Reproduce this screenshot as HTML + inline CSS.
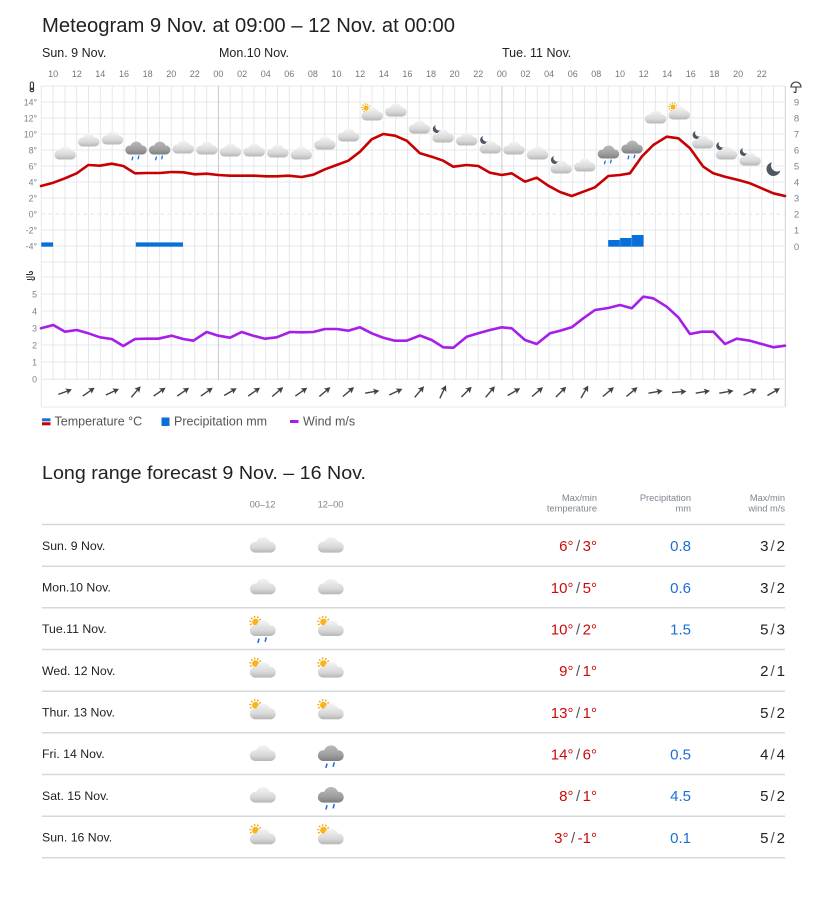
<!DOCTYPE html>
<html><head><meta charset="utf-8">
<style>
html,body{margin:0;padding:0;background:#fff;}
svg{display:block;}
</style></head>
<body>
<svg width="827" height="900" xmlns="http://www.w3.org/2000/svg" xmlns:xlink="http://www.w3.org/1999/xlink" font-family="Liberation Sans, Arial, sans-serif">
<defs>
<linearGradient id="gl" gradientUnits="userSpaceOnUse" x1="0" y1="0" x2="0" y2="13"><stop offset="0" stop-color="#f4f4f4"/><stop offset="0.65" stop-color="#d8d8d8"/><stop offset="1" stop-color="#b6b6b6"/></linearGradient>
<linearGradient id="gd" gradientUnits="userSpaceOnUse" x1="0" y1="0" x2="0" y2="13"><stop offset="0" stop-color="#bababa"/><stop offset="0.65" stop-color="#9c9c9c"/><stop offset="1" stop-color="#7e7e7e"/></linearGradient>
<g id="cl" fill="url(#gl)"><circle cx="5" cy="8.5" r="4.5"/><circle cx="11.5" cy="6" r="6"/><circle cx="17.5" cy="8.5" r="4.5"/><rect x="5" y="8" width="12.5" height="5"/></g>
<g id="cd" fill="url(#gd)"><circle cx="5" cy="8.5" r="4.5"/><circle cx="11.5" cy="6" r="6"/><circle cx="17.5" cy="8.5" r="4.5"/><rect x="5" y="8" width="12.5" height="5"/></g>
<g id="dr" stroke="#1d6fd6" stroke-width="1.3" stroke-linecap="round"><line x1="7.3" y1="18.3" x2="8" y2="15.6"/><line x1="13.3" y1="17.3" x2="14" y2="14.6"/></g>
<path id="mn" d="M-1.175 -4.859A5 5 0 1 0 4.859 1.175A4.4 4.4 0 0 1 -1.175 -4.859Z" fill="#4d5863"/>
<g id="sn"><circle r="2.6" fill="#f8b31d"/><circle r="4" fill="none" stroke="#f5a81a" stroke-width="1.5" stroke-dasharray="1.1 1.4"/></g>
<g id="ar"><line x1="-7" y1="0" x2="3" y2="0" stroke="#3b444d" stroke-width="1.4"/><polygon points="7.5,0 1.5,-3.2 2.8,0 1.5,3.2" fill="#3b444d"/></g>
</defs>

<!-- Title -->
<text x="42" y="32" font-size="20" fill="#222" textLength="413" lengthAdjust="spacingAndGlyphs">Meteogram 9 Nov. at 09:00 – 12 Nov. at 00:00</text>

<!-- Day labels -->
<g font-size="12.5" fill="#222">
<text x="42" y="57">Sun. 9 Nov.</text>
<text x="219" y="57">Mon.10 Nov.</text>
<text x="502" y="57">Tue. 11 Nov.</text>
</g>

<!-- Hour labels -->
<g font-size="9" fill="#6e7780" text-anchor="middle">
<text x="53.1" y="77">10</text><text x="76.7" y="77">12</text><text x="100.3" y="77">14</text><text x="124" y="77">16</text><text x="147.6" y="77">18</text><text x="171.2" y="77">20</text><text x="194.8" y="77">22</text>
<text x="218.4" y="77">00</text><text x="242.1" y="77">02</text><text x="265.7" y="77">04</text><text x="289.3" y="77">06</text><text x="312.9" y="77">08</text><text x="336.5" y="77">10</text><text x="360.1" y="77">12</text><text x="383.8" y="77">14</text><text x="407.4" y="77">16</text><text x="431" y="77">18</text><text x="454.6" y="77">20</text><text x="478.2" y="77">22</text>
<text x="501.9" y="77">00</text><text x="525.5" y="77">02</text><text x="549.1" y="77">04</text><text x="572.7" y="77">06</text><text x="596.3" y="77">08</text><text x="620" y="77">10</text><text x="643.6" y="77">12</text><text x="667.2" y="77">14</text><text x="690.8" y="77">16</text><text x="714.4" y="77">18</text><text x="738.1" y="77">20</text><text x="761.7" y="77">22</text>
</g>

<!-- Grid -->
<path fill="none" stroke="#e4e8ec" stroke-width="1" d="M53.1 86V380M64.9 86V380M76.7 86V380M88.5 86V380M100.3 86V380M112.2 86V380M124 86V380M135.8 86V380M147.6 86V380M159.4 86V380M171.2 86V380M183 86V380M194.8 86V380M206.6 86V380M230.2 86V380M242.1 86V380M253.9 86V380M265.7 86V380M277.5 86V380M289.3 86V380M301.1 86V380M312.9 86V380M324.7 86V380M336.5 86V380M348.3 86V380M360.1 86V380M372 86V380M383.8 86V380M395.6 86V380M407.4 86V380M419.2 86V380M431 86V380M442.8 86V380M454.6 86V380M466.4 86V380M478.2 86V380M490.1 86V380M513.7 86V380M525.5 86V380M537.3 86V380M549.1 86V380M560.9 86V380M572.7 86V380M584.5 86V380M596.3 86V380M608.2 86V380M620 86V380M631.8 86V380M643.6 86V380M655.4 86V380M667.2 86V380M679 86V380M690.8 86V380M702.6 86V380M714.4 86V380M726.2 86V380M738.1 86V380M749.9 86V380M761.7 86V380M773.5 86V380"/>
<path fill="none" stroke="#e4e8ec" stroke-width="1" d="M41.3 86H785.3M41.3 102H785.3M41.3 118H785.3M41.3 134H785.3M41.3 150H785.3M41.3 166H785.3M41.3 182H785.3M41.3 198H785.3M41.3 230H785.3M41.3 246H785.3M41.3 262H785.3M41.3 277H785.3M41.3 294H785.3M41.3 311H785.3M41.3 328H785.3M41.3 345H785.3M41.3 362H785.3M41.3 379.3H785.3M41.3 407H785.3M41.3 86V407"/>
<line x1="41.3" y1="214" x2="785.3" y2="214" stroke="#dfe4e9" stroke-dasharray="4 3"/>
<line x1="218.4" y1="86" x2="218.4" y2="380" stroke="#c5cacf"/>
<line x1="501.9" y1="86" x2="501.9" y2="380" stroke="#c5cacf"/>
<line x1="785.3" y1="86" x2="785.3" y2="407" stroke="#cdd2d7"/>

<!-- Axis icons -->
<g fill="none" stroke="#333" stroke-width="1.1">
<rect x="30.3" y="82" width="3.2" height="7.5" rx="1.6"/>
<circle cx="31.9" cy="90" r="1.8"/>
<path d="M26 274.5h5a1.5 1.5 0 1 0 -1.5 -1.5M26 277h7a1.5 1.5 0 1 1 -1.5 1.5M27 279.5h4"/>
<path d="M791 87a5 5 0 0 1 10 0zM796 87v4.5a1 1 0 0 1 -2 0"/>
</g>

<!-- Left axis labels -->
<g font-size="8.8" fill="#7a838c" text-anchor="end">
<text x="37" y="105.3">14°</text><text x="37" y="121.3">12°</text><text x="37" y="137.3">10°</text><text x="37" y="153.3">8°</text><text x="37" y="169.3">6°</text><text x="37" y="185.3">4°</text><text x="37" y="201.3">2°</text><text x="37" y="217.3">0°</text><text x="37" y="233.3">-2°</text><text x="37" y="249.3">-4°</text>
<text x="37" y="297.6">5</text><text x="37" y="314.6">4</text><text x="37" y="331.6">3</text><text x="37" y="348.6">2</text><text x="37" y="365.6">1</text><text x="37" y="382.6">0</text>
</g>
<!-- Right axis labels -->
<g font-size="9.5" fill="#7a838c" text-anchor="middle">
<text x="796.5" y="105.5">9</text><text x="796.5" y="121.5">8</text><text x="796.5" y="137.5">7</text><text x="796.5" y="153.5">6</text><text x="796.5" y="169.5">5</text><text x="796.5" y="185.5">4</text><text x="796.5" y="201.5">3</text><text x="796.5" y="217.5">2</text><text x="796.5" y="233.5">1</text><text x="796.5" y="250">0</text>
</g>

<!-- Precipitation -->
<g fill="#0b6fd8">
<rect x="41.3" y="242.4" width="11.8" height="4.3"/>
<rect x="135.8" y="242.4" width="47.2" height="4.3"/>
<rect x="608.2" y="240" width="11.8" height="6.7"/>
<rect x="620" y="238" width="11.8" height="8.7"/>
<rect x="631.8" y="235" width="11.8" height="11.7"/>
</g>
<g stroke="#5d9de6" stroke-width="0.6"><line x1="620" y1="238" x2="620" y2="246.7"/><line x1="631.8" y1="235" x2="631.8" y2="246.7"/></g>

<!-- Temperature line -->
<polyline fill="none" stroke="#c80000" stroke-width="2.6" stroke-linejoin="round" stroke-linecap="round" points="41,186 53.3,182.7 65,178.3 76.7,173.3 88.3,165 100,165.7 111.7,163.7 123.3,166 135,173.3 146.7,173 160,173 171.7,172 183.3,172.3 195,174.3 206.7,173.7 218.3,175 230,175.7 253.3,175.7 266.7,176.3 276.7,176.3 288.3,175.7 301.7,177 313.3,174.7 325,169.3 336.7,165 348.3,160.7 360,151.7 371.7,139.3 383.3,134 395,135.7 406.7,140.7 420,153.3 431.7,156.7 443.3,160.7 453.3,166.7 466.7,165 478.3,166 490,172.7 501.7,175 511.7,173.3 525,181.7 536.7,177.7 548.3,185.7 560,192 571.7,196 583.3,191.7 595,187.3 608.3,176 620,175 630,173.3 641.7,156.7 653.3,145 666.7,136.7 678.3,138.3 690,148.3 703.3,166.7 713.3,173.3 725,176.7 738.3,180 750,183.3 761.7,188.3 773.3,193.3 785,196"/>

<!-- Wind line -->
<polyline fill="none" stroke="#a61ee8" stroke-width="2.6" stroke-linejoin="round" stroke-linecap="round" points="41,328.3 53.3,325 65,331.7 76.7,330 88.3,333.3 100,337.3 111.7,339 123.3,346 135,339 146.7,338.7 158.3,338.7 171.7,335.7 183.3,339 193.3,340.7 206.7,332 218.3,335.7 230,337.7 241.7,332 253.3,335.7 265,338.7 276.7,337.3 290,332 301.7,332.3 313.3,332 325,329 336.7,329 348.3,330.7 360,327.3 371.7,333.3 383.3,337.7 395,340.7 406.7,340.7 420,335.5 431.7,340 443.3,347.3 453.3,347.7 466.7,336.7 478.3,333.3 490,330 501.7,327.3 511.7,328.3 525,340 536.7,344 550,333.3 560,330.7 571.7,327.3 583.3,318.3 595,310 608.3,308 620,305 631.7,308.3 643.3,296.7 653.3,298.3 666.7,306.7 678.3,317.3 690,334 701.7,331.7 713.3,331.7 725,344 736.7,338.7 750,340.7 761.7,344 773.3,347.3 785,345.7"/>

<!-- Weather icons in chart -->
<use xlink:href="#cl" x="53.9" y="146.5"/>
<use xlink:href="#cl" x="77.5" y="133.5"/>
<use xlink:href="#cl" x="101.2" y="131.5"/>
<use xlink:href="#cd" x="124.8" y="141.5"/><use xlink:href="#dr" x="124.8" y="141.5"/>
<use xlink:href="#cd" x="148.4" y="141.5"/><use xlink:href="#dr" x="148.4" y="141.5"/>
<use xlink:href="#cl" x="172" y="140.5"/>
<use xlink:href="#cl" x="195.6" y="141.5"/>
<use xlink:href="#cl" x="219.2" y="143.5"/>
<use xlink:href="#cl" x="242.9" y="143.5"/>
<use xlink:href="#cl" x="266.5" y="144.5"/>
<use xlink:href="#cl" x="290.1" y="146.5"/>
<use xlink:href="#cl" x="313.7" y="136.5"/>
<use xlink:href="#cl" x="337.3" y="128.5"/>
<use xlink:href="#sn" x="366" y="108"/><use xlink:href="#cl" x="361" y="107.5"/>
<use xlink:href="#cl" x="384.6" y="103.5"/>
<use xlink:href="#cl" x="408.2" y="120.5"/>
<use xlink:href="#mn" transform="translate(436.8,129) scale(0.8)"/><use xlink:href="#cl" x="431.8" y="129.5"/>
<use xlink:href="#cl" x="455.4" y="132.5"/>
<use xlink:href="#mn" transform="translate(484.1,140) scale(0.8)"/><use xlink:href="#cl" x="479.1" y="140.5"/>
<use xlink:href="#cl" x="502.7" y="141.5"/>
<use xlink:href="#cl" x="526.3" y="146.5"/>
<use xlink:href="#mn" transform="translate(554.9,160) scale(0.8)"/><use xlink:href="#cl" x="549.9" y="160.5"/>
<use xlink:href="#cl" x="573.5" y="158.5"/>
<use xlink:href="#cd" x="597.2" y="145.5"/><use xlink:href="#dr" x="597.2" y="145.5"/>
<use xlink:href="#cd" x="620.8" y="140.5"/><use xlink:href="#dr" x="620.8" y="140.5"/>
<use xlink:href="#cl" x="644.4" y="110.5"/>
<use xlink:href="#sn" x="673" y="107"/><use xlink:href="#cl" x="668" y="106.5"/>
<use xlink:href="#mn" transform="translate(696.6,135) scale(0.8)"/><use xlink:href="#cl" x="691.6" y="135.5"/>
<use xlink:href="#mn" transform="translate(720.2,146) scale(0.8)"/><use xlink:href="#cl" x="715.2" y="146.5"/>
<use xlink:href="#mn" transform="translate(743.9,152) scale(0.8)"/><use xlink:href="#cl" x="738.9" y="152.5"/>
<use xlink:href="#mn" transform="translate(773.5,169) scale(1.4)"/>

<!-- Wind arrows -->
<use xlink:href="#ar" transform="translate(64.9,392) rotate(-20)"/>
<use xlink:href="#ar" transform="translate(88.5,392) rotate(-35)"/>
<use xlink:href="#ar" transform="translate(112.2,392) rotate(-25)"/>
<use xlink:href="#ar" transform="translate(135.8,392) rotate(-50)"/>
<use xlink:href="#ar" transform="translate(159.4,392) rotate(-35)"/>
<use xlink:href="#ar" transform="translate(183,392) rotate(-35)"/>
<use xlink:href="#ar" transform="translate(206.6,392) rotate(-35)"/>
<use xlink:href="#ar" transform="translate(230.2,392) rotate(-30)"/>
<use xlink:href="#ar" transform="translate(253.9,392) rotate(-35)"/>
<use xlink:href="#ar" transform="translate(277.5,392) rotate(-40)"/>
<use xlink:href="#ar" transform="translate(301.1,392) rotate(-35)"/>
<use xlink:href="#ar" transform="translate(324.7,392) rotate(-40)"/>
<use xlink:href="#ar" transform="translate(348.3,392) rotate(-40)"/>
<use xlink:href="#ar" transform="translate(372,392) rotate(-10)"/>
<use xlink:href="#ar" transform="translate(395.6,392) rotate(-25)"/>
<use xlink:href="#ar" transform="translate(419.2,392) rotate(-50)"/>
<use xlink:href="#ar" transform="translate(442.8,392) rotate(-65)"/>
<use xlink:href="#ar" transform="translate(466.4,392) rotate(-45)"/>
<use xlink:href="#ar" transform="translate(490.1,392) rotate(-50)"/>
<use xlink:href="#ar" transform="translate(513.7,392) rotate(-30)"/>
<use xlink:href="#ar" transform="translate(537.3,392) rotate(-40)"/>
<use xlink:href="#ar" transform="translate(560.9,392) rotate(-45)"/>
<use xlink:href="#ar" transform="translate(584.5,392) rotate(-60)"/>
<use xlink:href="#ar" transform="translate(608.2,392) rotate(-40)"/>
<use xlink:href="#ar" transform="translate(631.8,392) rotate(-40)"/>
<use xlink:href="#ar" transform="translate(655.4,392) rotate(-10)"/>
<use xlink:href="#ar" transform="translate(679,392) rotate(-5)"/>
<use xlink:href="#ar" transform="translate(702.6,392) rotate(-10)"/>
<use xlink:href="#ar" transform="translate(726.2,392) rotate(-10)"/>
<use xlink:href="#ar" transform="translate(749.9,392) rotate(-25)"/>
<use xlink:href="#ar" transform="translate(773.5,392) rotate(-30)"/>

<!-- Legend -->
<rect x="42" y="418.3" width="8.5" height="3" fill="#1a6fd6"/>
<rect x="42" y="422.3" width="8.5" height="3" fill="#c80000"/>
<rect x="161.5" y="417.5" width="8" height="8.5" fill="#0b6fd8"/>
<line x1="290" y1="421.5" x2="298.5" y2="421.5" stroke="#a61ee8" stroke-width="3"/>
<g font-size="12.5" fill="#555">
<text x="54.5" y="425.5">Temperature °C</text>
<text x="174" y="425.5">Precipitation mm</text>
<text x="303" y="425.5">Wind m/s</text>
</g>

<!-- Long range title -->
<text x="42" y="479" font-size="18.5" fill="#222" textLength="324" lengthAdjust="spacingAndGlyphs">Long range forecast 9 Nov. – 16 Nov.</text>

<!-- Table header -->
<g font-size="9.3" fill="#7d858d">
<text x="262.5" y="507.5" text-anchor="middle">00–12</text>
<text x="330.5" y="507.5" text-anchor="middle">12–00</text>
<text x="597" y="501" text-anchor="end">Max/min</text>
<text x="597" y="511.6" text-anchor="end">temperature</text>
<text x="691" y="501" text-anchor="end">Precipitation</text>
<text x="691" y="511.6" text-anchor="end">mm</text>
<text x="785" y="501" text-anchor="end">Max/min</text>
<text x="785" y="511.6" text-anchor="end">wind m/s</text>
</g>

<!-- Table lines -->
<path stroke="#d3d9df" stroke-width="1.5" fill="none" d="M42 524.5H785M42 566.2H785M42 607.8H785M42 649.5H785M42 691.2H785M42 732.8H785M42 774.5H785M42 816.2H785M42 857.8H785"/>

<!-- Row labels -->
<g font-size="12.3" fill="#222">
<text x="42" y="549.8">Sun. 9 Nov.</text>
<text x="42" y="591.5">Mon.10 Nov.</text>
<text x="42" y="633.2">Tue.11 Nov.</text>
<text x="42" y="674.8">Wed. 12 Nov.</text>
<text x="42" y="716.5">Thur. 13 Nov.</text>
<text x="42" y="758.2">Fri. 14 Nov.</text>
<text x="42" y="799.8">Sat. 15 Nov.</text>
<text x="42" y="841.5">Sun. 16 Nov.</text>
</g>

<!-- Table icons -->
<!-- row1 -->
<use xlink:href="#cl" transform="translate(249.3,537) scale(1.2)"/>
<use xlink:href="#cl" transform="translate(317.3,537) scale(1.2)"/>
<!-- row2 -->
<use xlink:href="#cl" transform="translate(249.3,578.7) scale(1.2)"/>
<use xlink:href="#cl" transform="translate(317.3,578.7) scale(1.2)"/>
<!-- row3 -->
<use xlink:href="#sn" transform="translate(255.5,622) scale(1.3)"/>
<use xlink:href="#cl" transform="translate(249.3,620.4) scale(1.2)"/>
<use xlink:href="#dr" transform="translate(249.3,620.4) scale(1.2)"/>
<use xlink:href="#sn" transform="translate(323.5,622) scale(1.3)"/>
<use xlink:href="#cl" transform="translate(317.3,620.4) scale(1.2)"/>
<!-- row4 -->
<use xlink:href="#sn" transform="translate(255.5,663.6) scale(1.3)"/>
<use xlink:href="#cl" transform="translate(249.3,662) scale(1.2)"/>
<use xlink:href="#sn" transform="translate(323.5,663.6) scale(1.3)"/>
<use xlink:href="#cl" transform="translate(317.3,662) scale(1.2)"/>
<!-- row5 -->
<use xlink:href="#sn" transform="translate(255.5,705.3) scale(1.3)"/>
<use xlink:href="#cl" transform="translate(249.3,703.7) scale(1.2)"/>
<use xlink:href="#sn" transform="translate(323.5,705.3) scale(1.3)"/>
<use xlink:href="#cl" transform="translate(317.3,703.7) scale(1.2)"/>
<!-- row6 -->
<use xlink:href="#cl" transform="translate(249.3,745.4) scale(1.2)"/>
<use xlink:href="#cd" transform="translate(317.3,745.4) scale(1.2)"/>
<use xlink:href="#dr" transform="translate(317.3,745.4) scale(1.2)"/>
<!-- row7 -->
<use xlink:href="#cl" transform="translate(249.3,787) scale(1.2)"/>
<use xlink:href="#cd" transform="translate(317.3,787) scale(1.2)"/>
<use xlink:href="#dr" transform="translate(317.3,787) scale(1.2)"/>
<!-- row8 -->
<use xlink:href="#sn" transform="translate(255.5,830.3) scale(1.3)"/>
<use xlink:href="#cl" transform="translate(249.3,828.7) scale(1.2)"/>
<use xlink:href="#sn" transform="translate(323.5,830.3) scale(1.3)"/>
<use xlink:href="#cl" transform="translate(317.3,828.7) scale(1.2)"/>

<!-- Temperatures -->
<g font-size="15" fill="#cc0a0a" text-anchor="end">
<text x="597" y="551.1">6°<tspan fill="#555" dx="2.5">/</tspan><tspan dx="2.5">3°</tspan></text>
<text x="597" y="592.8">10°<tspan fill="#555" dx="2.5">/</tspan><tspan dx="2.5">5°</tspan></text>
<text x="597" y="634.5">10°<tspan fill="#555" dx="2.5">/</tspan><tspan dx="2.5">2°</tspan></text>
<text x="597" y="676.1">9°<tspan fill="#555" dx="2.5">/</tspan><tspan dx="2.5">1°</tspan></text>
<text x="597" y="717.8">13°<tspan fill="#555" dx="2.5">/</tspan><tspan dx="2.5">1°</tspan></text>
<text x="597" y="759.5">14°<tspan fill="#555" dx="2.5">/</tspan><tspan dx="2.5">6°</tspan></text>
<text x="597" y="801.1">8°<tspan fill="#555" dx="2.5">/</tspan><tspan dx="2.5">1°</tspan></text>
<text x="597" y="842.8">3°<tspan fill="#555" dx="2.5">/</tspan><tspan dx="2.5">-1°</tspan></text>
</g>
<!-- Precipitation -->
<g font-size="15" fill="#1a6fd6" text-anchor="end">
<text x="691" y="551.1">0.8</text>
<text x="691" y="592.8">0.6</text>
<text x="691" y="634.5">1.5</text>
<text x="691" y="759.5">0.5</text>
<text x="691" y="801.1">4.5</text>
<text x="691" y="842.8">0.1</text>
</g>
<!-- Wind -->
<g font-size="15" fill="#222" text-anchor="end">
<text x="785" y="551.1">3<tspan fill="#555" dx="2">/</tspan><tspan dx="2">2</tspan></text>
<text x="785" y="592.8">3<tspan fill="#555" dx="2">/</tspan><tspan dx="2">2</tspan></text>
<text x="785" y="634.5">5<tspan fill="#555" dx="2">/</tspan><tspan dx="2">3</tspan></text>
<text x="785" y="676.1">2<tspan fill="#555" dx="2">/</tspan><tspan dx="2">1</tspan></text>
<text x="785" y="717.8">5<tspan fill="#555" dx="2">/</tspan><tspan dx="2">2</tspan></text>
<text x="785" y="759.5">4<tspan fill="#555" dx="2">/</tspan><tspan dx="2">4</tspan></text>
<text x="785" y="801.1">5<tspan fill="#555" dx="2">/</tspan><tspan dx="2">2</tspan></text>
<text x="785" y="842.8">5<tspan fill="#555" dx="2">/</tspan><tspan dx="2">2</tspan></text>
</g>
</svg>
</body></html>
